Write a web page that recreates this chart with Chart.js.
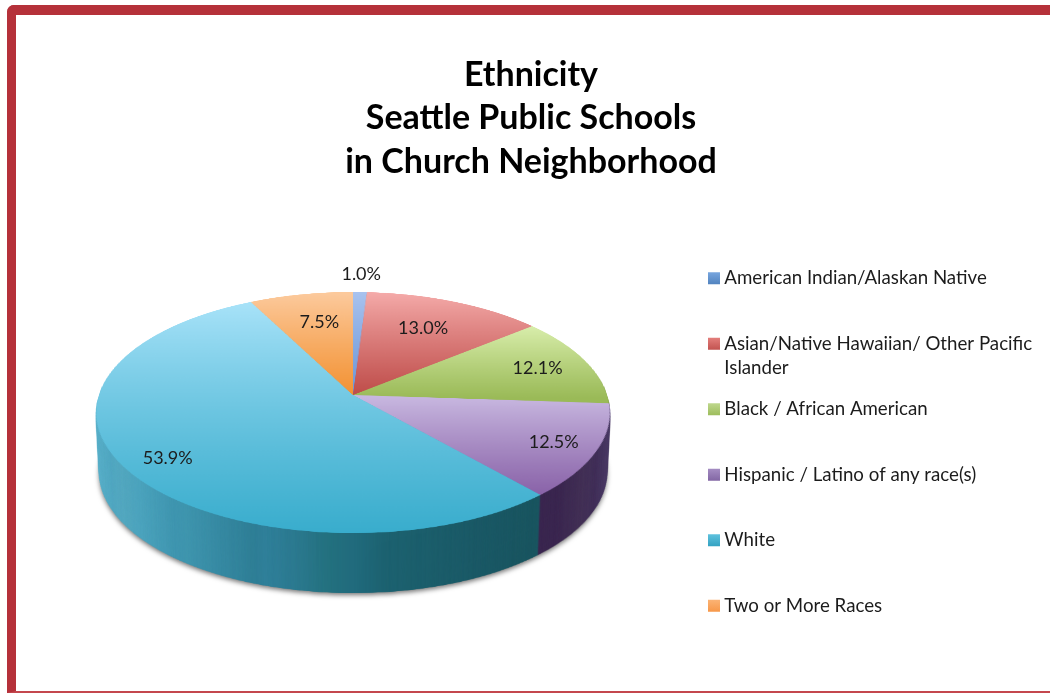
<!DOCTYPE html>
<html>
<head>
<meta charset="utf-8">
<script src="https://cdn.jsdelivr.net/npm/chart.js@4"></script>
<style>
html,body{margin:0;padding:0;background:#fff;overflow:hidden}
#frame{position:absolute;left:7px;top:5px;width:1043px;height:676px;border-left:9px solid #b5313a;border-top:10px solid #b5313a;border-bottom:2px solid #c4474e;border-top-left-radius:7px}
canvas{position:absolute;left:0;top:0}
</style>
</head>
<body>
<div id="frame"></div>
<canvas id="c" width="1050" height="693"></canvas>
<script>
const titleLines = ['Ethnicity', 'Seattle Public Schools', 'in Church Neighborhood'];
const categories = ['American Indian/Alaskan Native', 'Asian/Native Hawaiian/ Other Pacific Islander', 'Black / African American', 'Hispanic / Latino of any race(s)', 'White', 'Two or More Races'];
const legendLines = [['American Indian/Alaskan Native', ''], ['Asian/Native Hawaiian/ Other Pacific', 'Islander'], ['Black / African American', ''], ['Hispanic / Latino of any race(s)', ''], ['White', ''], ['Two or More Races', '']];
const values = [1.0, 13.0, 12.1, 12.5, 53.9, 7.5];

const topPale = ['#a9c3ef', '#f5abaa', '#d9eeac', '#c9b9e1', '#a9e3f9', '#fcc99b'];
const topDeep = ['#6c96d6', '#bf4d4a', '#9aba57', '#8962a8', '#39adcd', '#f39233'];
const topSpan = [[-1, 0], [-1, 0], [-0.64, 0.03], [0, 0.76], [-0.9, 1], [-0.97, 0]];
const rimStops = [
  [[0, '#2f4a70'], [1, '#2f4a70']],
  [[0, '#6b2b2a'], [1, '#6b2b2a']],
  [[0, '#556b30'], [1, '#556b30']],
  [[0.86, '#3b2750'], [0.92, '#443257'], [0.95, '#42305a'], [1, '#51426c']],
  [[0, '#5db4cd'], [0.05, '#52a8c2'], [0.08, '#54a8c0'], [0.12, '#4ca3bd'], [0.19, '#3f95af'], [0.21, '#4096ae'], [0.27, '#378aa3'], [0.33, '#2f7f96'], [0.35, '#30809a'], [0.4, '#2c7a90'], [0.46, '#24717f'], [0.5, '#216b7d'], [0.56, '#1d6270'], [0.7, '#1b5a67'], [0.82, '#1a5560'], [0.84, '#1e5b67'], [0.86, '#1a5560']],
  [[0, '#8a5220'], [1, '#8a5220']]
];
const legendPale = ['#78a6df', '#e47f7c', '#bfd88e', '#a58dc3', '#5fc2de', '#fbb476'];
const legendDeep = ['#4f81bd', '#c0504d', '#9bbb59', '#8064a2', '#31a0c0', '#f79646'];
const labelRadius = [1.21, 0.7, 0.79, 0.835, 0.835, 0.7];
const labelTurn = [0, -1.5, 0, 0, -1.7, 1.5];

const W = 1050, H = 693;
const cx = 353, cy = 395, R = 256;
const kPersp = 0.145, bPersp = 118, aPersp = 254;
const rimDepth = 60;
const legendX = 713, legendY = 269, legendStep = 65.5, legendPad = 17.5;

const canvas = document.getElementById('c');
const ctx = canvas.getContext('2d');

const faceColors = values.map((_, i) => {
  const g = ctx.createLinearGradient(0, cy + R * topSpan[i][0], 0, cy + R * topSpan[i][1]);
  g.addColorStop(0, topPale[i]);
  g.addColorStop(1, topDeep[i]);
  return g;
});

function layer() {
  const c = document.createElement('canvas');
  c.width = W; c.height = H;
  return c;
}

function warp(src, dst) {
  const d = dst.getContext('2d');
  for (let y = 280; y < 550; y++) {
    const dy = y + 0.5 - cy;
    const den = bPersp + kPersp * dy;
    const v = dy / den;
    if (Math.abs(v) > 1.01) continue;
    const s = (aPersp / R) / (1 - kPersp * v);
    const sh = R * bPersp / (den * den);
    d.drawImage(src, 0, cy + R * v - sh / 2, W, sh, cx - cx * s, y, W * s, 1);
  }
}

function project(u, v) {
  const q = 1 - kPersp * v;
  return { x: cx + aPersp * u / q, y: cy + bPersp * v / q };
}

const piePlugin = {
  id: 'tiltedPie',
  afterLayout(chart) {
    const a = chart.chartArea;
    a.left = cx - R; a.right = cx + R; a.top = cy - R; a.bottom = cy + R;
    a.width = 2 * R; a.height = 2 * R;
    const t = chart.titleBlock;
    t.left = 6; t.right = 1056; t.top = 53;
    t.bottom = t.top + t.height;
    const l = chart.legend;
    const w = l.width, h = l.height;
    l.left = legendX - legendPad; l.right = l.left + w;
    l.top = legendY - legendPad; l.bottom = l.top + h;
  },
  beforeDatasetsDraw(chart) {
    const arcs = chart.getDatasetMeta(0).data;
    const c = chart.ctx;

    const rimSrc = layer(), one = layer();
    const rs = rimSrc.getContext('2d'), os = one.getContext('2d');
    arcs.forEach((arc, i) => {
      os.globalCompositeOperation = 'source-over';
      os.clearRect(0, 0, W, H);
      arc.draw(os); arc.draw(os);
      os.globalCompositeOperation = 'source-in';
      const g = os.createLinearGradient(cx - R, 0, cx + R, 0);
      rimStops[i].forEach(p => g.addColorStop(p[0], p[1]));
      os.fillStyle = g;
      os.fillRect(0, 0, W, H);
      rs.drawImage(one, 0, 0);
    });
    const rimFlat = layer();
    warp(rimSrc, rimFlat);

    for (let d = rimDepth; d >= 1; d--) {
      const s = 1 - 0.012 * d / rimDepth;
      c.save();
      if (d === rimDepth) {
        c.shadowColor = 'rgba(0,0,0,0.55)';
        c.shadowBlur = 5;
        c.shadowOffsetY = 2;
      }
      c.drawImage(rimFlat, cx - cx * s, d, W * s, H);
      c.restore();
    }

    const faceSrc = layer();
    const fs = faceSrc.getContext('2d');
    for (let pass = 0; pass < 2; pass++) arcs.forEach(arc => arc.draw(fs));
    const faceFlat = layer();
    warp(faceSrc, faceFlat);
    c.drawImage(faceFlat, 0, 0);
    return false;
  },
  afterDraw(chart) {
    const arcs = chart.getDatasetMeta(0).data;
    const c = chart.ctx;
    c.save();
    c.font = '18px Lato';
    c.fillStyle = '#1c1c1c';
    c.textAlign = 'center';
    c.textBaseline = 'middle';
    arcs.forEach((arc, i) => {
      const mid = (arc.startAngle + arc.endAngle) / 2 + labelTurn[i] * Math.PI / 180;
      const p = project(labelRadius[i] * Math.cos(mid), labelRadius[i] * Math.sin(mid));
      c.fillText(values[i].toFixed(1) + '%', p.x, p.y + 1);
    });
    c.restore();
  }
};

new Chart(ctx, {
  type: 'pie',
  data: {
    labels: categories,
    datasets: [{ data: values, backgroundColor: faceColors, borderWidth: 0 }]
  },
  options: {
    responsive: false,
    animation: false,
    devicePixelRatio: 1,
    plugins: {
      tooltip: { enabled: false },
      title: {
        display: true,
        text: titleLines,
        color: '#000',
        align: 'center',
        padding: 0,
        font: { family: 'Lato', size: 34, weight: 'bold', lineHeight: 43.5 / 34 }
      },
      legend: {
        display: true,
        position: 'right',
        align: 'start',
        labels: {
          boxWidth: 2,
          boxHeight: 2,
          padding: legendPad,
          color: '#1c1c1c',
          font: { family: 'Lato', size: 18.7, lineHeight: 24 / 18.7 },
          generateLabels() {
            return legendLines.map((text, i) => {
              const top = legendY + i * legendStep;
              const g = ctx.createLinearGradient(0, top + 3, 0, top + 16);
              g.addColorStop(0, legendPale[i]);
              g.addColorStop(1, legendDeep[i]);
              return { text, fillStyle: g, strokeStyle: g, lineWidth: 10, hidden: false, index: i, fontColor: '#1c1c1c' };
            });
          }
        }
      }
    }
  },
  plugins: [piePlugin]
});
</script>
</body>
</html>
